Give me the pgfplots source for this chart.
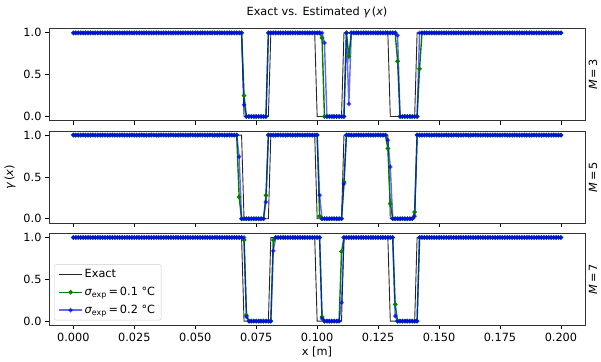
\documentclass[border=0pt]{standalone}
\usepackage{fontspec}
\setmainfont{DejaVu Sans}
\usepackage{pgfplots}
\usepackage{pgfplotstable}
\pgfplotsset{compat=1.18}
\definecolor{mplgreen}{rgb}{0,0.5,0}
\definecolor{mplblue}{rgb}{0,0,1}

\pgfplotstableread{
x ex g3 b3 g5 b5 g7 b7
0.000 1 1 1 1 1 1 1
0.001 1 1 1 1 1 1 1
0.002 1 1 1 1 1 1 1
0.003 1 1 1 1 1 1 1
0.004 1 1 1 1 1 1 1
0.005 1 1 1 1 1 1 1
0.006 1 1 1 1 1 1 1
0.007 1 1 1 1 1 1 1
0.008 1 1 1 1 1 1 1
0.009 1 1 1 1 1 1 1
0.010 1 1 1 1 1 1 1
0.011 1 1 1 1 1 1 1
0.012 1 1 1 1 1 1 1
0.013 1 1 1 1 1 1 1
0.014 1 1 1 1 1 1 1
0.015 1 1 1 1 1 1 1
0.016 1 1 1 1 1 1 1
0.017 1 1 1 1 1 1 1
0.018 1 1 1 1 1 1 1
0.019 1 1 1 1 1 1 1
0.020 1 1 1 1 1 1 1
0.021 1 1 1 1 1 1 1
0.022 1 1 1 1 1 1 1
0.023 1 1 1 1 1 1 1
0.024 1 1 1 1 1 1 1
0.025 1 1 1 1 1 1 1
0.026 1 1 1 1 1 1 1
0.027 1 1 1 1 1 1 1
0.028 1 1 1 1 1 1 1
0.029 1 1 1 1 1 1 1
0.030 1 1 1 1 1 1 1
0.031 1 1 1 1 1 1 1
0.032 1 1 1 1 1 1 1
0.033 1 1 1 1 1 1 1
0.034 1 1 1 1 1 1 1
0.035 1 1 1 1 1 1 1
0.036 1 1 1 1 1 1 1
0.037 1 1 1 1 1 1 1
0.038 1 1 1 1 1 1 1
0.039 1 1 1 1 1 1 1
0.040 1 1 1 1 1 1 1
0.041 1 1 1 1 1 1 1
0.042 1 1 1 1 1 1 1
0.043 1 1 1 1 1 1 1
0.044 1 1 1 1 1 1 1
0.045 1 1 1 1 1 1 1
0.046 1 1 1 1 1 1 1
0.047 1 1 1 1 1 1 1
0.048 1 1 1 1 1 1 1
0.049 1 1 1 1 1 1 1
0.050 1 1 1 1 1 1 1
0.051 1 1 1 1 1 1 1
0.052 1 1 1 1 1 1 1
0.053 1 1 1 1 1 1 1
0.054 1 1 1 1 1 1 1
0.055 1 1 1 1 1 1 1
0.056 1 1 1 1 1 1 1
0.057 1 1 1 1 1 1 1
0.058 1 1 1 1 1 1 1
0.059 1 1 1 1 1 1 1
0.060 1 1 1 1 1 1 1
0.061 1 1 1 1 1 1 1
0.062 1 1 1 1 1 1 1
0.063 1 1 1 1 1 1 1
0.064 1 1 1 1 1 1 1
0.065 1 1 1 1 1 1 1
0.066 1 1 1 1 1 1 1
0.067 1 1 1 1 1 1 1
0.068 1 1 1 0.26 0.74 1 1
0.069 1 1 1 0 0 1 1
0.070 0 0.25 0.14 0 0 0.97 1
0.071 0 0 0 0 0 0.07 0.05
0.072 0 0 0 0 0 0 0
0.073 0 0 0 0 0 0 0
0.074 0 0 0 0 0 0 0
0.075 0 0 0 0 0 0 0
0.076 0 0 0 0 0 0 0
0.077 0 0 0 0 0 0 0
0.078 0 0 0 0 0 0 0
0.079 0 0 0 0.28 0.20 0 0
0.080 0 1 1 1 1 0 0
0.081 1 1 1 1 1 0 0
0.082 1 1 1 1 1 0.97 0.84
0.083 1 1 1 1 1 1 1
0.084 1 1 1 1 1 1 1
0.085 1 1 1 1 1 1 1
0.086 1 1 1 1 1 1 1
0.087 1 1 1 1 1 1 1
0.088 1 1 1 1 1 1 1
0.089 1 1 1 1 1 1 1
0.090 1 1 1 1 1 1 1
0.091 1 1 1 1 1 1 1
0.092 1 1 1 1 1 1 1
0.093 1 1 1 1 1 1 1
0.094 1 1 1 1 1 1 1
0.095 1 1 1 1 1 1 1
0.096 1 1 1 1 1 1 1
0.097 1 1 1 1 1 1 1
0.098 1 1 1 1 1 1 1
0.099 1 1 1 1 1 1 1
0.100 0 1 1 1 1 1 1
0.101 0 1 1 0.03 0.28 1 1
0.102 0 0.94 1 0 0 0.05 0.03
0.103 0 0 0.88 0 0 0 0
0.104 0 0 0 0 0 0 0
0.105 0 0 0 0 0 0 0
0.106 0 0 0 0 0 0 0
0.107 0 0 0 0 0 0 0
0.108 0 0 0 0 0 0 0
0.109 0 0 0 0 0 0 0
0.110 0 0 0 0 0 0.83 0.22
0.111 1 0 0 0.44 0.42 1 1
0.112 1 1 1 1 1 1 1
0.113 1 0.72 0.15 1 1 1 1
0.114 1 1 1 1 1 1 1
0.115 1 1 1 1 1 1 1
0.116 1 1 1 1 1 1 1
0.117 1 1 1 1 1 1 1
0.118 1 1 1 1 1 1 1
0.119 1 1 1 1 1 1 1
0.120 1 1 1 1 1 1 1
0.121 1 1 1 1 1 1 1
0.122 1 1 1 1 1 1 1
0.123 1 1 1 1 1 1 1
0.124 1 1 1 1 1 1 1
0.125 1 1 1 1 1 1 1
0.126 1 1 1 1 1 1 1
0.127 1 1 1 1 1 1 1
0.128 1 1 1 1 1 1 1
0.129 1 1 1 0.84 0.94 1 1
0.130 0 1 1 0.18 0.62 1 1
0.131 0 1 1 0 0 1 1
0.132 0 1 1 0 0 0.20 0.06
0.133 0 0.66 0.97 0 0 0 0
0.134 0 0 0 0 0 0 0
0.135 0 0 0 0 0 0 0
0.136 0 0 0 0 0 0 0
0.137 0 0 0 0 0 0 0
0.138 0 0 0 0 0 0 0
0.139 0 0 0 0 0 0 0
0.140 0 0 0 0.08 0.03 0 0
0.141 1 0 0 1 1 0 0
0.142 1 0.57 1 1 1 1 1
0.143 1 1 1 1 1 1 1
0.144 1 1 1 1 1 1 1
0.145 1 1 1 1 1 1 1
0.146 1 1 1 1 1 1 1
0.147 1 1 1 1 1 1 1
0.148 1 1 1 1 1 1 1
0.149 1 1 1 1 1 1 1
0.150 1 1 1 1 1 1 1
0.151 1 1 1 1 1 1 1
0.152 1 1 1 1 1 1 1
0.153 1 1 1 1 1 1 1
0.154 1 1 1 1 1 1 1
0.155 1 1 1 1 1 1 1
0.156 1 1 1 1 1 1 1
0.157 1 1 1 1 1 1 1
0.158 1 1 1 1 1 1 1
0.159 1 1 1 1 1 1 1
0.160 1 1 1 1 1 1 1
0.161 1 1 1 1 1 1 1
0.162 1 1 1 1 1 1 1
0.163 1 1 1 1 1 1 1
0.164 1 1 1 1 1 1 1
0.165 1 1 1 1 1 1 1
0.166 1 1 1 1 1 1 1
0.167 1 1 1 1 1 1 1
0.168 1 1 1 1 1 1 1
0.169 1 1 1 1 1 1 1
0.170 1 1 1 1 1 1 1
0.171 1 1 1 1 1 1 1
0.172 1 1 1 1 1 1 1
0.173 1 1 1 1 1 1 1
0.174 1 1 1 1 1 1 1
0.175 1 1 1 1 1 1 1
0.176 1 1 1 1 1 1 1
0.177 1 1 1 1 1 1 1
0.178 1 1 1 1 1 1 1
0.179 1 1 1 1 1 1 1
0.180 1 1 1 1 1 1 1
0.181 1 1 1 1 1 1 1
0.182 1 1 1 1 1 1 1
0.183 1 1 1 1 1 1 1
0.184 1 1 1 1 1 1 1
0.185 1 1 1 1 1 1 1
0.186 1 1 1 1 1 1 1
0.187 1 1 1 1 1 1 1
0.188 1 1 1 1 1 1 1
0.189 1 1 1 1 1 1 1
0.190 1 1 1 1 1 1 1
0.191 1 1 1 1 1 1 1
0.192 1 1 1 1 1 1 1
0.193 1 1 1 1 1 1 1
0.194 1 1 1 1 1 1 1
0.195 1 1 1 1 1 1 1
0.196 1 1 1 1 1 1 1
0.197 1 1 1 1 1 1 1
0.198 1 1 1 1 1 1 1
0.199 1 1 1 1 1 1 1
0.200 1 1 1 1 1 1 1
}\gammadata

\newcommand{\fs}{\fontsize{11.3}{13.5}\selectfont}

\pgfplotsset{
  panel/.style={
    scale only axis, width=536.3pt, height=92pt,
    anchor=north west,
    xmin=-0.01, xmax=0.21, ymin=-0.05, ymax=1.05,
    xtick={0,0.025,0.05,0.075,0.1,0.125,0.15,0.175,0.2},
    ytick={0,0.5,1},
    scaled ticks=false,
    tick pos=left, tick align=outside,
    major tick length=4pt,
    every tick/.style={black, line width=0.8pt},
    axis line style={line width=0.8pt, black!80},
    tick label style={font=\fs},
    /pgf/number format/assume math mode=true,
    xticklabel style={/pgf/number format/.cd, fixed, fixed zerofill, precision=3},
    yticklabel style={/pgf/number format/.cd, fixed, fixed zerofill, precision=1},
    legend image code/.code={\draw[mark repeat=2,mark phase=2] plot coordinates {(0cm,0cm) (0.4cm,0cm) (0.8cm,0cm)};},
  },
  exs/.style={black, line width=0.9pt, opacity=0.85, no markers},
  gs/.style={color=mplgreen, line width=1.4pt, mark=*, mark size=1.5pt, mark options={solid}},
  bs/.style={color=mplblue, opacity=0.6, line width=1.4pt, mark=*, mark size=1.5pt, mark options={solid}},
}

\begin{document}
\begin{tikzpicture}
\useasboundingbox (0,0) rectangle (601pt,-361pt);

\begin{axis}[panel, at={(49pt,-28.7pt)}, xticklabels={}]
\addplot[exs] table[x=x, y=ex] {\gammadata};
\addplot[gs] table[x=x, y=g3] {\gammadata};
\addplot[bs] table[x=x, y=b3] {\gammadata};
\end{axis}

\begin{axis}[panel, at={(49pt,-130.9pt)}, xticklabels={}]
\addplot[exs] table[x=x, y=ex] {\gammadata};
\addplot[gs] table[x=x, y=g5] {\gammadata};
\addplot[bs] table[x=x, y=b5] {\gammadata};
\end{axis}

\begin{axis}[panel, at={(49pt,-233.3pt)},
  legend style={at={(0.0099,0.054)}, anchor=south west, draw=black!20, rounded corners=2pt,
    fill=white, fill opacity=0.8, text opacity=1, font=\fs, inner xsep=4pt, inner ysep=3pt,
    row sep=4pt, /tikz/every even column/.append style={column sep=2pt}},
  legend cell align=left]
\addplot[exs] table[x=x, y=ex] {\gammadata};
\addlegendentry{Exact}
\addplot[gs] table[x=x, y=g7] {\gammadata};
\addlegendentry{{\itshape σ}\textsubscript{exp}\,=\,0.1 °C}
\addplot[bs] table[x=x, y=b7] {\gammadata};
\addlegendentry{{\itshape σ}\textsubscript{exp}\,=\,0.2 °C}
\end{axis}

\node[font=\fs] at (317pt,-12pt) {Exact vs. Estimated {\itshape γ}\,({\itshape x})};
\node[font=\fs, rotate=90] at (10pt,-177pt) {{\itshape γ}\,({\itshape x})};
\node[font=\fs] at (317pt,-352pt) {x [m]};
\node[font=\fs, rotate=90] at (593pt,-74.7pt) {{\itshape M}\,=\,3};
\node[font=\fs, rotate=90] at (593pt,-177pt) {{\itshape M}\,=\,5};
\node[font=\fs, rotate=90] at (593pt,-279.5pt) {{\itshape M}\,=\,7};
\end{tikzpicture}
\end{document}
